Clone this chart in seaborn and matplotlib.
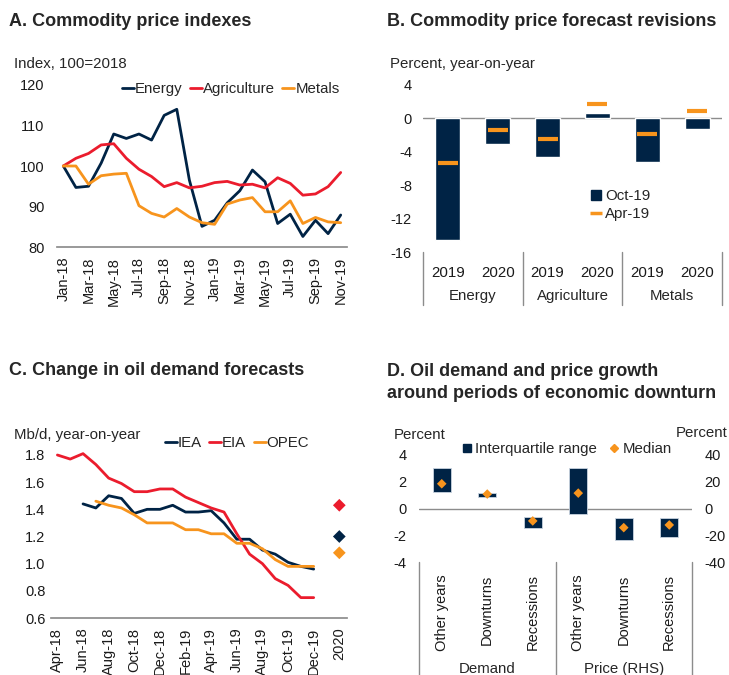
import numpy as np
import pandas as pd
import matplotlib
matplotlib.use('Agg')
import matplotlib.pyplot as plt
import matplotlib.transforms as mtrans
from matplotlib.lines import Line2D
import seaborn as sns

sns.set_theme(style='white')
plt.rcParams['font.family'] = ['Liberation Sans', 'DejaVu Sans']
plt.rcParams['axes.unicode_minus'] = False

NAVY = '#002345'
RED = '#eb1c2d'
ORANGE = '#f7941d'
GREY = '#8c8c8c'

# ---- Panel A data ----
months_a = ['Jan-18', 'Feb-18', 'Mar-18', 'Apr-18', 'May-18', 'Jun-18', 'Jul-18', 'Aug-18',
            'Sep-18', 'Oct-18', 'Nov-18', 'Dec-18', 'Jan-19', 'Feb-19', 'Mar-19', 'Apr-19',
            'May-19', 'Jun-19', 'Jul-19', 'Aug-19', 'Sep-19', 'Oct-19', 'Nov-19']
energy = [100, 94.7, 95.0, 100.7, 107.9, 106.8, 107.9, 106.4, 112.5, 114.0, 96.5, 85.1,
          86.6, 90.9, 93.9, 99.0, 96.1, 85.8, 88.1, 82.6, 86.6, 83.3, 87.9]
agriculture = [100, 101.9, 103.1, 105.2, 105.5, 101.9, 99.2, 97.4, 94.9, 95.9, 94.6, 95.0,
               95.9, 96.2, 95.3, 95.5, 94.6, 97.1, 95.7, 92.8, 93.1, 94.9, 98.4]
metals = [100, 100.0, 95.5, 97.6, 98.0, 98.2, 90.2, 88.3, 87.4, 89.5, 87.4, 86.0,
          85.6, 90.6, 91.6, 92.2, 88.7, 88.7, 91.4, 85.8, 87.3, 86.2, 86.0]

# ---- Panel B data ----
b_groups = ['Energy', 'Agriculture', 'Metals']
b_years = ['2019', '2020', '2019', '2020', '2019', '2020']
oct19 = [-14.6, -3.1, -4.6, 0.6, -5.2, -1.3]
apr19 = [-5.4, -1.4, -2.5, 1.75, -1.9, 0.9]

# ---- Panel C data ----
months_c = ['Apr-18', 'May-18', 'Jun-18', 'Jul-18', 'Aug-18', 'Sep-18', 'Oct-18', 'Nov-18',
            'Dec-18', 'Jan-19', 'Feb-19', 'Mar-19', 'Apr-19', 'May-19', 'Jun-19', 'Jul-19',
            'Aug-19', 'Sep-19', 'Oct-19', 'Nov-19', 'Dec-19']
iea = [None, None, 1.44, 1.41, 1.50, 1.48, 1.37, 1.40, 1.40, 1.43, 1.38, 1.38, 1.39,
       1.30, 1.18, 1.18, 1.10, 1.07, 1.01, 0.98, 0.96]
eia = [1.80, 1.77, 1.81, 1.73, 1.63, 1.59, 1.53, 1.53, 1.55, 1.55, 1.49, 1.45, 1.41,
       1.38, 1.22, 1.07, 1.00, 0.89, 0.84, 0.75, 0.75]
opec = [None, None, None, 1.46, 1.43, 1.41, 1.36, 1.30, 1.30, 1.30, 1.25, 1.25, 1.22,
        1.22, 1.15, 1.15, 1.11, 1.03, 0.98, 0.98, 0.98]
f2020 = {'IEA': 1.20, 'EIA': 1.43, 'OPEC': 1.08}

# ---- Panel D data ----
d_cats = ['Other years', 'Downturns', 'Recessions']
dem_lo = [1.2, 0.83, -1.43]
dem_hi = [3.0, 1.14, -0.6]
dem_med = [1.85, 1.08, -0.93]
price_lo = [-3.8, -23.5, -21.0]
price_hi = [30.0, -6.8, -7.3]
price_med = [11.5, -14.3, -12.3]

W, H = 729, 675
fig = plt.figure(figsize=(W / 100, H / 100), dpi=100)


def px_axes(left, top, right, bottom):
    return fig.add_axes([left / W, 1 - bottom / H, (right - left) / W, (bottom - top) / H])


def ftext(x, y, s, **kw):
    fig.text(x / W, 1 - y / H, s, **kw)


TICK_FS = 10.5
LAB_FS = 10.8
TFS = 13.0


def clean(ax):
    for s in ax.spines.values():
        s.set_visible(False)
    ax.tick_params(length=0, labelsize=TICK_FS, colors='#1a1a1a')
    ax.set_xlabel('')
    ax.set_ylabel('')


# ================= Panel A =================
ax = px_axes(57, 85, 347, 247)
df_a = pd.DataFrame({
    'x': list(range(len(months_a))) * 3,
    'value': energy + agriculture + metals,
    'series': ['Energy'] * 23 + ['Agriculture'] * 23 + ['Metals'] * 23,
})
sns.lineplot(data=df_a, x='x', y='value', hue='series',
             palette={'Energy': NAVY, 'Agriculture': RED, 'Metals': ORANGE},
             linewidth=2, ax=ax, clip_on=False)
clean(ax)
ax.spines['bottom'].set_visible(True)
ax.spines['bottom'].set_color(GREY)
ax.set_xlim(-0.5, 22.5)
ax.set_ylim(80, 120)
ax.set_yticks([80, 90, 100, 110, 120])
ax.set_xticks(range(0, 23, 2))
ax.set_xticklabels(months_a[::2], rotation=90)
ax.tick_params(axis='x', pad=7)
ax.tick_params(axis='y', pad=9)
ax.legend(loc='center right', bbox_to_anchor=(0.995, 0.975), ncol=3, frameon=False,
          handlelength=0.8, handletextpad=0.1, columnspacing=0.45, fontsize=LAB_FS,
          borderaxespad=0)
ftext(9, 21, 'A. Commodity price indexes', fontsize=TFS, fontweight='bold', va='center')
ftext(14, 64, 'Index, 100=2018', fontsize=LAB_FS, va='center')

# ================= Panel B =================
ax = px_axes(423, 85, 722, 252)
df_b = pd.DataFrame({'cat': [f'{g} {y}' for g in b_groups for y in ['2019', '2020']],
                     'oct19': oct19})
sns.barplot(data=df_b, x='cat', y='oct19', color=NAVY, width=0.5, ax=ax, saturation=1)
ax.scatter(range(len(apr19)), apr19, marker='_', s=210, linewidths=3, color=ORANGE, zorder=5)
clean(ax)
ax.axhline(0, color=GREY, lw=1, zorder=0)
ax.set_xlim(-0.5, 5.5)
ax.set_ylim(-16, 4)
ax.set_yticks([-16, -12, -8, -4, 0, 4])
ax.set_xticks(range(6))
ax.set_xticklabels(b_years, fontsize=LAB_FS)
ax.tick_params(axis='x', pad=10)
ax.tick_params(axis='y', pad=8)
tr = mtrans.blended_transform_factory(ax.transData, ax.transAxes)
for xs in [-0.5, 1.5, 3.5, 5.5]:
    ax.plot([xs, xs], [0, -0.32], color=GREY, lw=1, transform=tr, clip_on=False)
for i, g in enumerate(b_groups):
    ax.text(2 * i + 0.5, -0.265, g, transform=tr, ha='center', va='center', fontsize=LAB_FS)
handles = [Line2D([], [], marker='s', color=NAVY, ls='none', markersize=7),
           Line2D([], [], marker='_', color=ORANGE, ls='none', markersize=8, mew=2.5)]
ax.legend(handles, ['Oct-19', 'Apr-19'], loc='center left', bbox_to_anchor=(0.545, 0.28),
          frameon=False, fontsize=LAB_FS, handlelength=0.6, handletextpad=0.3,
          labelspacing=0.25, borderaxespad=0)
ftext(387, 21, 'B. Commodity price forecast revisions', fontsize=TFS, fontweight='bold',
      va='center')
ftext(390, 64, 'Percent, year-on-year', fontsize=LAB_FS, va='center')

# ================= Panel C =================
ax = px_axes(51, 455, 347, 618)
n_c = len(months_c)
df_c = pd.DataFrame({
    'x': list(range(n_c)) * 3,
    'value': iea + eia + opec,
    'series': ['IEA'] * n_c + ['EIA'] * n_c + ['OPEC'] * n_c,
}).dropna()
pal_c = {'IEA': NAVY, 'EIA': RED, 'OPEC': ORANGE}
sns.lineplot(data=df_c, x='x', y='value', hue='series', palette=pal_c, linewidth=2,
             ax=ax, clip_on=False)
df_c20 = pd.DataFrame({'x': [n_c + 1] * 3, 'value': list(f2020.values()),
                       'series': list(f2020.keys())})
sns.scatterplot(data=df_c20, x='x', y='value', hue='series', palette=pal_c, marker='D',
                s=42, edgecolor='none', ax=ax, legend=False, clip_on=False)
clean(ax)
ax.spines['bottom'].set_visible(True)
ax.spines['bottom'].set_color(GREY)
ax.set_xlim(-0.5, 22.6)
ax.set_ylim(0.6, 1.8)
ax.set_yticks(np.arange(0.6, 1.81, 0.2))
ax.set_yticklabels([f'{v:.1f}' for v in np.arange(0.6, 1.81, 0.2)])
ax.set_xticks(list(range(0, n_c, 2)) + [n_c + 1])
ax.set_xticklabels(months_c[::2] + ['2020'], rotation=90)
ax.tick_params(axis='x', pad=7)
ax.tick_params(axis='y', pad=4)
ax.legend(loc='center left', bbox_to_anchor=(0.365, 1.075), ncol=3, frameon=False,
          handlelength=0.8, handletextpad=0.05, columnspacing=0.5, fontsize=LAB_FS,
          borderaxespad=0)
ftext(9, 371, 'C. Change in oil demand forecasts', fontsize=TFS, fontweight='bold',
      va='center')
ftext(14, 435, 'Mb/d, year-on-year', fontsize=LAB_FS, va='center')

# ================= Panel D =================
ax = px_axes(419, 455, 692, 562)
ax2 = ax.twinx()
ax.bar(range(3), np.array(dem_hi) - np.array(dem_lo), bottom=dem_lo, width=0.4,
       color=NAVY, edgecolor='#c9d3e0', linewidth=0.6, zorder=3)
ax.scatter(range(3), dem_med, marker='D', s=24, color=ORANGE, zorder=5, edgecolor='none')
ax2.bar(range(3, 6), np.array(price_hi) - np.array(price_lo), bottom=price_lo, width=0.4,
        color=NAVY, edgecolor='#c9d3e0', linewidth=0.6, zorder=3)
ax2.scatter(range(3, 6), price_med, marker='D', s=24, color=ORANGE, zorder=5,
            edgecolor='none')
for a in (ax, ax2):
    clean(a)
    a.set_xlim(-0.5, 5.5)
ax.axhline(0, color=GREY, lw=1, zorder=0)
ax.set_ylim(-4, 4)
ax2.set_ylim(-40, 40)
ax.set_yticks([-4, -2, 0, 2, 4])
ax2.set_yticks([-40, -20, 0, 20, 40])
ax.tick_params(axis='y', pad=9)
ax2.tick_params(axis='y', pad=9)
ax.set_xticks(range(6))
ax.set_xticklabels(d_cats * 2, rotation=90)
ax.tick_params(axis='x', pad=9)
tr = mtrans.blended_transform_factory(ax.transData, ax.transAxes)
for xs in [-0.5, 2.5, 5.5]:
    ax.plot([xs, xs], [0, -1.06], color=GREY, lw=1, transform=tr, clip_on=False)
for xc, g in [(1, 'Demand'), (4, 'Price (RHS)')]:
    ax.text(xc, -1.0, g, transform=tr, ha='center', va='center', fontsize=LAB_FS)
handles = [Line2D([], [], marker='s', color=NAVY, ls='none', markersize=6),
           Line2D([], [], marker='D', color=ORANGE, ls='none', markersize=4.5)]
ax.legend(handles, ['Interquartile range', 'Median'], loc='center left',
          bbox_to_anchor=(0.14, 1.055), ncol=2, frameon=False, fontsize=LAB_FS,
          handlelength=0.5, handletextpad=0.3, columnspacing=0.9, borderaxespad=0)
ftext(387, 372, 'D. Oil demand and price growth', fontsize=TFS, fontweight='bold',
      va='center')
ftext(387, 394, 'around periods of economic downturn', fontsize=TFS, fontweight='bold',
      va='center')
ftext(394, 435, 'Percent', fontsize=LAB_FS, va='center')
ftext(728, 433, 'Percent', fontsize=LAB_FS, va='center', ha='right')

fig.savefig('out.png', dpi=100)
